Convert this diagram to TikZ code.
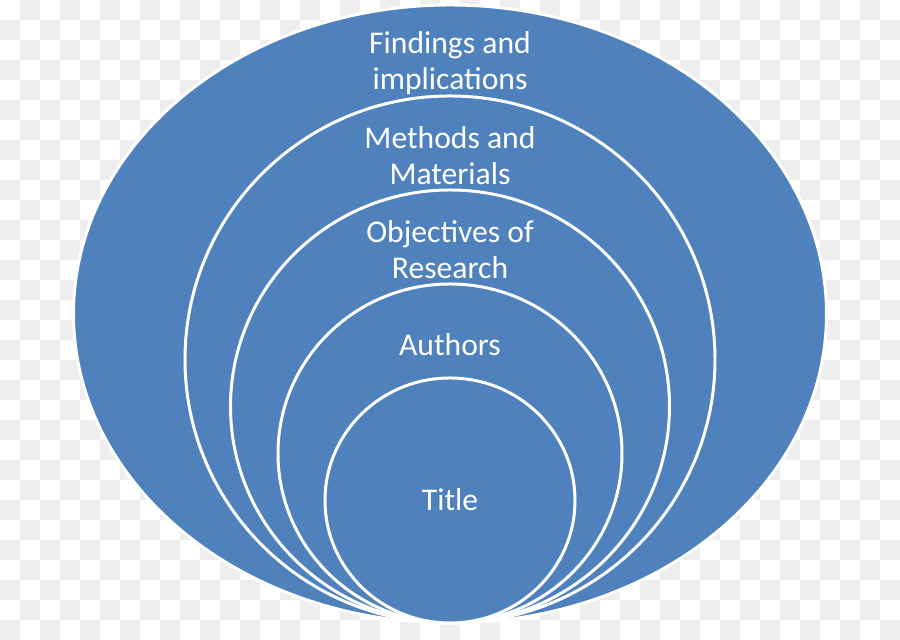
\documentclass[tikz,border=0pt]{standalone}
\usepackage{fontspec}
\setmainfont{Carlito}
\usepackage{tikz}
\usetikzlibrary{calc}
\definecolor{ringblue}{HTML}{4F81BD}
\definecolor{checkgray}{HTML}{EEEEEE}

\begin{document}
\begin{tikzpicture}[
  line join=round,
  ring/.style={fill=ringblue,draw=white,line width=1.7pt},
  label/.style={text=white,align=center,font=\fontsize{18}{20.5}\selectfont,inner sep=0pt}
]
\useasboundingbox (0,0) rectangle (18,12.8);

% transparency checker behind the target
\fill[white] (0,0) rectangle (18,12.8);
\foreach \c in {0,...,44}
  \foreach \r in {0,...,31}{
    \pgfmathtruncatemacro\odd{mod(\c+\r,2)}
    \ifnum\odd=1
      \fill[checkgray] (0.4*\c,12.8-0.4*\r) rectangle ++(0.4,-0.4);
    \fi
  }

% nested rings, all touching at the bottom
\coordinate (C) at (9,0.34);
\draw[ring] (9,6.52) ellipse [x radius=7.53, y radius=6.18]; % findings
\draw[ring] (9,5.61) ellipse [x radius=5.30, y radius=5.27]; % methods
\draw[ring] (9,4.67) ellipse [x radius=4.39, y radius=4.33]; % objectives
\draw[ring] (9,3.73) ellipse [x radius=3.44, y radius=3.39]; % authors
\draw[ring] (9,2.79) ellipse [x radius=2.50, y radius=2.45]; % title

% labels
\node[label] (findings) at (9,11.53) {Findings and\\implications};
\node[label] (methods) at (9,9.69) {Methods and\\Materials};
\node[label] (objectives) at (9,7.81) {Objectives of\\Research};
\node[label] (authors) at (9,5.90) {Authors};
\node[label] (title) at (9,2.80) {Title};

\end{tikzpicture}
\end{document}
